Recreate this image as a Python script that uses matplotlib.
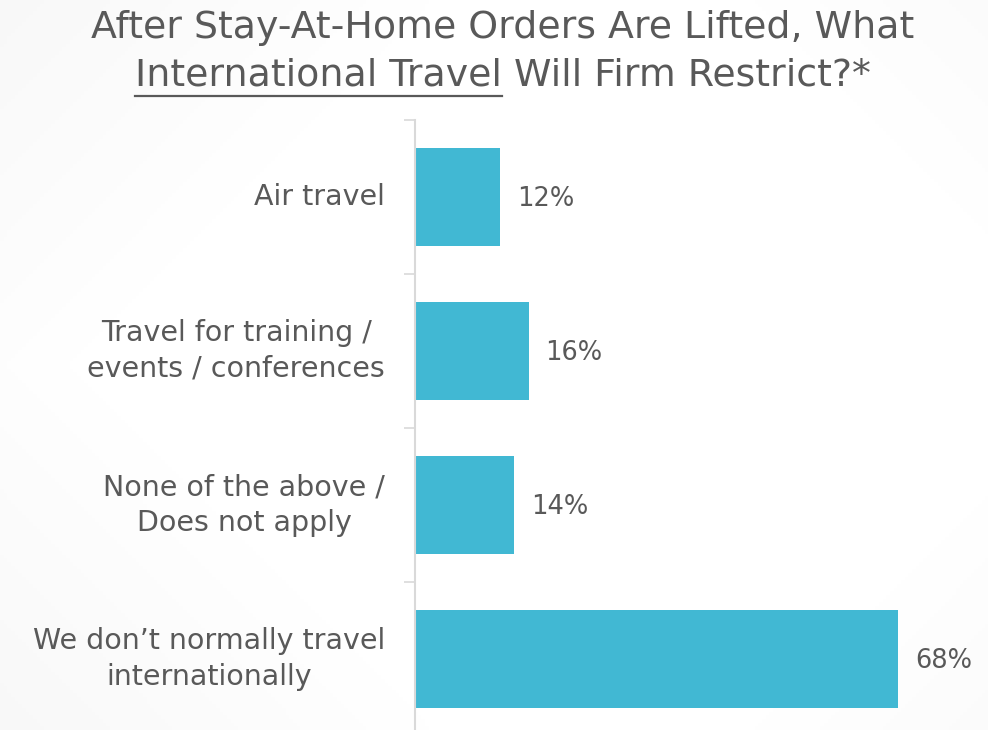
import numpy as np
import matplotlib
matplotlib.use("Agg")
import matplotlib.pyplot as plt
from matplotlib.lines import Line2D

# data
categories = ["Air travel",
              "Travel for training /\nevents / conferences",
              "None of the above /\nDoes not apply",
              "We don\u2019t normally travel\ninternationally"]
values = [12, 16, 14, 68]
value_labels = ["12%", "16%", "14%", "68%"]

BAR = "#41B8D3"
TXT = "#595959"
AXC = "#D9D9D9"
FONT = ["DejaVu Sans"]

W, H = 988, 730
fig = plt.figure(figsize=(W / 100, H / 100), dpi=100)

# faint slide background shading
bg = fig.add_axes([0, 0, 1, 1], zorder=-10)
yy, xx = np.mgrid[0:1:200j, 0:1:270j]
shade = 0.96 + 0.04 * np.clip(1.7 - np.abs(xx - 0.6) * 1.5 - np.abs(yy - 0.5) * 1.1, 0, 1)
bg.imshow(shade, cmap="gray", vmin=0, vmax=1, aspect="auto", extent=[0, 1, 0, 1])
bg.set_axis_off()

# axes placed in pixel terms: spine at x=415, categories from y=120 to y=736
left, right = 415, 988
top, bottom = 120, 736
ax = fig.add_axes([left / W, (H - bottom) / H, (right - left) / W, (bottom - top) / H])
ax.patch.set_alpha(0)

n = len(categories)
ypos = np.arange(n)
ax.barh(ypos, values, height=0.64, color=BAR, edgecolor="none")
ax.set_ylim(n - 0.5, -0.5)
ax.set_xlim(0, 80.7)

for y, v, lab in zip(ypos, values, value_labels):
    ax.annotate(lab, (v, y), xytext=(17, -2), textcoords="offset pixels",
                va="center", ha="left", fontsize=18.5, color=TXT, family=FONT)

# category labels (centered multi-line, right-aligned block)
for y, c in zip(ypos, categories):
    ax.annotate(c, (0, y), xytext=(-30, 0), textcoords="offset pixels",
                ha="right", va="center", multialignment="center",
                fontsize=20.5, color=TXT, family=FONT, linespacing=1.33)

ax.set_yticks(np.arange(-0.5, n, 1.0))
ax.set_yticklabels([])
ax.tick_params(axis="y", length=8, width=1.2, color=AXC, direction="out")
ax.set_xticks([])
for s in ["top", "right", "bottom"]:
    ax.spines[s].set_visible(False)
ax.spines["left"].set_color(AXC)
ax.spines["left"].set_linewidth(1.5)

# title with underlined phrase, centred at x=503 px
TS = 27.3
XC = 503
fig.text(XC / W, 1 - 28 / H, "After Stay-At-Home Orders Are Lifted, What",
         ha="center", va="center", fontsize=TS, color=TXT, family=FONT)
part1 = "International Travel"
part2 = " Will Firm Restrict?*"
probe1 = fig.text(0, 0, part1, fontsize=TS, family=FONT)
probe2 = fig.text(0, 0, part2, fontsize=TS, family=FONT)
r = fig.canvas.get_renderer()
w1 = probe1.get_window_extent(r).width
w2 = probe2.get_window_extent(r).width
probe1.remove()
probe2.remove()
x0 = XC - (w1 + w2) / 2
yc = H - 76
fig.text(x0 / W, yc / H, part1, ha="left", va="center", fontsize=TS,
         color=TXT, family=FONT)
fig.text((x0 + w1) / W, yc / H, part2, ha="left", va="center", fontsize=TS,
         color=TXT, family=FONT)
fig.add_artist(Line2D([x0 / W, (x0 + w1) / W], [(H - 96) / H, (H - 96) / H],
                      color=TXT, lw=1.6))

fig.savefig("out.png", dpi=100)
